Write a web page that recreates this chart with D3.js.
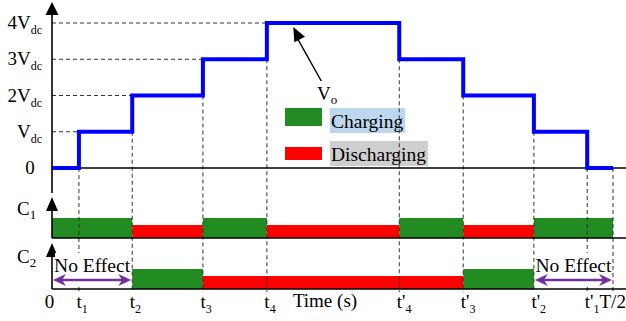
<!DOCTYPE html>
<html>
<head>
<meta charset="utf-8">
<script src="https://d3js.org/d3.v7.min.js"></script>
<style>
body { margin: 0; background: #fff; }
text { font-family: "Liberation Serif", "Times New Roman", serif; fill: #000; }
</style>
</head>
<body>
<script>
// time instants (as fraction of T/2) and their labels
var tickTimes = [0, 0.048, 0.143, 0.269, 0.383, 0.619, 0.733, 0.859, 0.954, 1];
var tickNames = ["0", "t", "t", "t", "t", "t'", "t'", "t'", "t'", "T/2"];
var tickSubs = ["", "1", "2", "3", "4", "4", "3", "2", "1", ""];

// output voltage level (in Vdc) in each interval between two instants
var voLevels = [0, 1, 2, 3, 4, 3, 2, 1, 0];
var levelNames = ["0", "V", "2V", "3V", "4V"];
var levelSubs = ["", "dc", "dc", "dc", "dc"];

// capacitor states per interval: C = charging, D = discharging, N = no effect
var c1States = ["C", "C", "D", "C", "D", "C", "D", "C", "C"];
var c2States = ["N", "N", "C", "D", "D", "D", "C", "N", "N"];

var legendKeys = ["C", "D"];
var legendNames = ["Charging", "Discharging"];

// svg
var svg = d3.select("body").append("svg")
    .attr("width", 626)
    .attr("height", 321);

// scales
var x = d3.scaleLinear().domain([0, 1]).range([52, 613]);
var y = d3.scaleLinear().domain([0, 4]).range([168, 23]);
var axisEnd = 626;
var c1Base = 238, c2Base = 289;
var barHeight = d3.scaleOrdinal().domain(["C", "D"]).range([20, 13]);
var barColor = d3.scaleOrdinal().domain(["C", "D"]).range(["#228b22", "#ff0000"]);
var legendBg = d3.scaleOrdinal().domain(["C", "D"]).range(["#bdd7ee", "#d0cfcf"]);

// join neighbouring intervals that have the same state
function runs(states) {
  var out = [];
  states.forEach(function(s, i) {
    var last = out[out.length - 1];
    if (last && last.state == s) last.end = tickTimes[i + 1];
    else out.push({state: s, start: tickTimes[i], end: tickTimes[i + 1]});
  });
  return out;
}

// text with a subscript part
function subText(sel, main, sub, size, subSize, shift) {
  sel.style("font-size", size + "px");
  sel.append("tspan").text(main);
  if (sub) {
    sel.append("tspan")
      .attr("dy", shift)
      .style("font-size", subSize + "px")
      .text(sub);
  }
}

// arrowhead pointing up
function arrowUp(cx, tipY, w, h) {
  svg.append("path")
    .attr("d", "M" + cx + "," + tipY + "L" + (cx - w / 2) + "," + (tipY + h) +
      "L" + (cx + w / 2) + "," + (tipY + h) + "Z")
    .attr("fill", "#000");
}

// legend
var legend = svg.selectAll(".legend")
  .data(legendKeys)
  .enter().append("g")
  .attr("transform", function(d, i) { return "translate(0," + i * 33 + ")"; });

legend.each(function(d, i) {
  var g = d3.select(this);
  var t = g.append("text")
    .attr("x", 331)
    .attr("y", 128)
    .style("font-size", "19.5px")
    .text(legendNames[i]);
  var len = t.node().getComputedTextLength();
  g.insert("rect", "text")
    .attr("x", 330)
    .attr("y", 108)
    .attr("width", len + 3)
    .attr("height", 25)
    .attr("fill", legendBg(d));
  g.append("rect")
    .attr("x", 285)
    .attr("y", 128 - barHeight(d) + (d == "D" ? -1 : 0))
    .attr("width", 37)
    .attr("height", d == "C" ? 18 : 13)
    .attr("fill", barColor(d));
});

// capacitor bars
[[c1States, c1Base], [c2States, c2Base]].forEach(function(ch) {
  svg.append("g").selectAll("rect")
    .data(runs(ch[0]).filter(function(d) { return d.state != "N"; }))
    .enter().append("rect")
    .attr("x", function(d) { return x(d.start); })
    .attr("width", function(d) { return x(d.end) - x(d.start); })
    .attr("y", function(d) { return ch[1] - barHeight(d.state); })
    .attr("height", function(d) { return barHeight(d.state); })
    .attr("fill", function(d) { return barColor(d.state); });
});

// dashed guides
var dash = svg.append("g")
  .attr("stroke", "#333")
  .attr("stroke-width", 1)
  .attr("stroke-dasharray", "4,3");

d3.range(1, 5).forEach(function(k) {
  var first = voLevels.indexOf(k);
  dash.append("line")
    .attr("x1", x(0)).attr("x2", x(tickTimes[first]))
    .attr("y1", y(k)).attr("y2", y(k));
});

tickTimes.forEach(function(t, i) {
  if (i == 0) return;
  var before = voLevels[i - 1];
  var after = i < voLevels.length ? voLevels[i] : before;
  dash.append("line")
    .attr("x1", x(t)).attr("x2", x(t))
    .attr("y1", y(Math.min(before, after)))
    .attr("y2", c2Base + 3);
});

// axis lines
var axes = svg.append("g").attr("stroke", "#000").attr("stroke-width", 1.6);
axes.append("line").attr("x1", x(0)).attr("x2", x(0)).attr("y1", 14).attr("y2", 193);
axes.append("line").attr("x1", x(0)).attr("x2", axisEnd).attr("y1", y(0)).attr("y2", y(0));
axes.append("line").attr("x1", x(0)).attr("x2", x(0)).attr("y1", 210).attr("y2", c1Base);
axes.append("line").attr("x1", x(0)).attr("x2", axisEnd).attr("y1", c1Base).attr("y2", c1Base);
axes.append("line").attr("x1", x(0)).attr("x2", x(0)).attr("y1", 256).attr("y2", c2Base);
axes.append("line").attr("x1", x(0)).attr("x2", axisEnd).attr("y1", c2Base).attr("y2", c2Base);
arrowUp(x(0), 2, 13, 13);
arrowUp(x(0), 197, 12, 14);
arrowUp(x(0), 243, 12, 14);

// output voltage staircase
var stepData = tickTimes.map(function(t, i) {
  return [t, voLevels[Math.min(i, voLevels.length - 1)]];
});
svg.append("path")
  .datum(stepData)
  .attr("fill", "none")
  .attr("stroke", "#0000ff")
  .attr("stroke-width", 4)
  .attr("d", d3.line()
    .x(function(d) { return x(d[0]); })
    .y(function(d) { return y(d[1]); })
    .curve(d3.curveStepAfter));

// y labels
levelNames.forEach(function(name, k) {
  var t = svg.append("text")
    .attr("x", k == 0 ? 30 : 42)
    .attr("y", y(k) + 6)
    .attr("text-anchor", k == 0 ? "middle" : "end");
  subText(t, name, levelSubs[k], 19, 12, 5);
});

// C1, C2 labels
[["1", c1Base - 23], ["2", c2Base - 26]].forEach(function(c) {
  var t = svg.append("text").attr("x", 17).attr("y", c[1]);
  subText(t, "C", c[0], 19, 13, 4);
});

// time axis labels
var xAxis = d3.axisBottom(x).tickValues(tickTimes).tickSize(0).tickFormat("");
var gx = svg.append("g")
  .attr("transform", "translate(0," + c2Base + ")")
  .call(xAxis);
gx.select(".domain").remove();
gx.selectAll(".tick").each(function(t, i) {
  var txt = d3.select(this).select("text")
    .attr("y", 19)
    .attr("dy", null)
    .attr("fill", null)
    .style("font-family", "'Liberation Serif', serif");
  if (tickSubs[i]) {
    txt.attr("text-anchor", "start").attr("x", -3);
  } else if (i == 0) {
    txt.attr("text-anchor", "middle").attr("x", -3);
  } else {
    txt.attr("text-anchor", "start").attr("x", -14);
  }
  subText(txt, tickNames[i], tickSubs[i], 19, 12, 5);
});

svg.append("text")
  .attr("x", 325)
  .attr("y", 307)
  .attr("text-anchor", "middle")
  .style("font-size", "19px")
  .text("Time (s)");

// "No Effect" spans
var purple = "#7030a0";
function stealth(tipX, cy, dir) {
  svg.append("path")
    .attr("d", "M" + tipX + "," + cy +
      "L" + (tipX - dir * 13) + "," + (cy - 6) +
      "L" + (tipX - dir * 9) + "," + cy +
      "L" + (tipX - dir * 13) + "," + (cy + 6) + "Z")
    .attr("fill", purple);
}
runs(c2States).filter(function(d) { return d.state == "N"; }).forEach(function(d) {
  var x1 = x(d.start) + 1, x2 = x(d.end) - 1;
  svg.append("rect")
    .attr("x", x1 + 2).attr("y", 253)
    .attr("width", x2 - x1 - 3).attr("height", 33)
    .attr("fill", "#fff");
  svg.append("text")
    .attr("x", (x1 + x2) / 2)
    .attr("y", 272)
    .attr("text-anchor", "middle")
    .style("font-size", "19.5px")
    .text("No Effect");
  svg.append("line")
    .attr("x1", x1 + 8).attr("x2", x2 - 8)
    .attr("y1", 280).attr("y2", 280)
    .attr("stroke", purple)
    .attr("stroke-width", 2.5);
  stealth(x1, 280, -1);
  stealth(x2, 280, 1);
});

// Vo annotation
svg.append("line")
  .attr("x1", x(0.48)).attr("y1", y(2.4))
  .attr("x2", x(0.436)).attr("y2", y(4) + 14)
  .attr("stroke", "#000")
  .attr("stroke-width", 1.5);
var ang = Math.atan2(y(2.4) - (y(4) + 4), x(0.48) - x(0.43));
var tipX = x(0.43), tipY = y(4) + 4;
var hl = 14, hw = 6;
var bx = tipX + hl * Math.cos(ang), by = tipY + hl * Math.sin(ang);
svg.append("path")
  .attr("d", "M" + tipX + "," + tipY +
    "L" + (bx - hw * Math.sin(ang)) + "," + (by + hw * Math.cos(ang)) +
    "L" + (bx + hw * Math.sin(ang)) + "," + (by - hw * Math.cos(ang)) + "Z")
  .attr("fill", "#000");
var vo = svg.append("text").attr("x", 317).attr("y", 100);
subText(vo, "V", "o", 19, 13, 4);
</script>
</body>
</html>
